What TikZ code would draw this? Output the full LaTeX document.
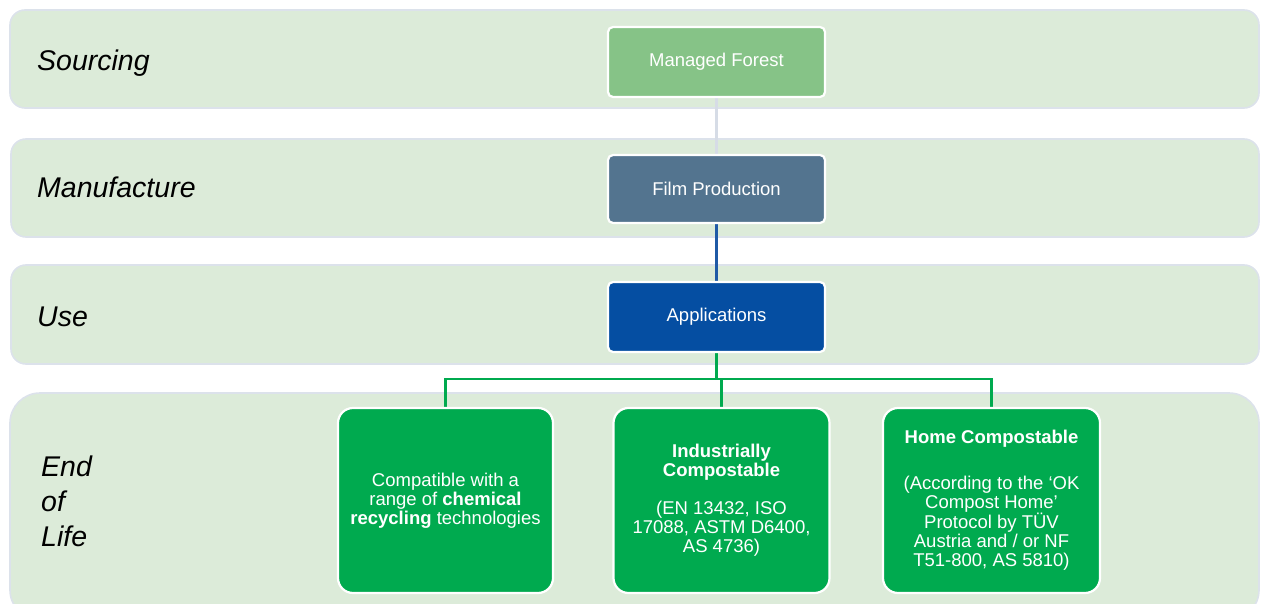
\documentclass[tikz,border=0pt]{standalone}
\usepackage{fontspec}
\setmainfont{Liberation Sans}
\usetikzlibrary{backgrounds}
\definecolor{bandfill}{HTML}{DCEBD9}
\definecolor{banddraw}{HTML}{DCE2EB}
\definecolor{forest}{HTML}{86C387}
\definecolor{film}{HTML}{53748F}
\definecolor{apps}{HTML}{054EA2}
\definecolor{eol}{HTML}{00AA4F}
\definecolor{greyline}{HTML}{D6DCE6}
\definecolor{blueline}{HTML}{1F5AA6}
\tikzset{
  band/.style={fill=bandfill, draw=banddraw, line width=1.6pt},
  stagelabel/.style={inner sep=0pt, font=\fontsize{28.5}{35}\selectfont\itshape, text=black, align=left},
  procbox/.style={draw=white, line width=2.2pt, rounded corners=5pt, text=white,
    minimum width=217pt, minimum height=70pt, inner sep=0pt, align=center,
    font=\fontsize{18.5}{19.3}\selectfont},
  eolbox/.style={draw=white, line width=2.2pt, rounded corners=15pt, fill=eol, text=white,
    minimum width=216pt, minimum height=185pt, inner sep=0pt, align=center,
    font=\fontsize{18.5}{19.0}\selectfont},
  conn/.style={line width=2.4pt}
}
\begin{document}
\begin{tikzpicture}[x=1pt, y=-1pt]
\useasboundingbox (0,0) rectangle (1261,604);
% stage labels
\node[stagelabel, anchor=base west] (lsrc) at (37,71) {Sourcing};
\node[stagelabel, anchor=base west] (lman) at (37,198) {Manufacture};
\node[stagelabel, anchor=base west] (luse) at (37,326) {Use};
\node[stagelabel, anchor=west] (leol) at (41,501.5) {End\\of\\Life};
% process boxes
\node[procbox, fill=forest] (mf) at (716.5,62) {Managed Forest};
\node[procbox, fill=film, minimum height=68pt] (fp) at (716.5,189) {Film Production};
\node[procbox, fill=apps] (app) at (716.5,317) {Applications};
% end-of-life boxes
\node[eolbox, minimum width=215pt] (b1) at (445.5,500.5)
  {Compatible with a\\range of \textbf{chemical}\\\textbf{recycling} technologies};
\node[eolbox] (b2) at (721.5,500.5)
  {\textbf{Industrially}\\\textbf{Compostable}\\[19pt](EN 13432, ISO\\17088, ASTM D6400,\\AS 4736)};
\node[eolbox, minimum width=217pt] (b3) at (991.5,500.5)
  {\textbf{Home Compostable}\\[27pt](According to the ‘OK\\Compost Home’\\Protocol by TÜV\\Austria and / or NF\\T51-800, AS 5810)};
\coordinate (bus) at (716.5,379);
\begin{scope}[on background layer]
% bands
\path[band, rounded corners=15pt] (10,10) rectangle (1259,108);
\path[band, rounded corners=15pt] (11,139) rectangle (1259,237);
\path[band, rounded corners=15pt] (11,265) rectangle (1259,364);
\path[band, rounded corners=30pt] (10,393) rectangle (1259,620);
% connectors
\draw[conn, greyline] (mf.south) -- (fp.north);
\draw[conn, blueline] (fp.south) -- (app.north);
\draw[conn, eol] (app.south) -- (bus);
\draw[conn, eol] (b1.north) |- (bus) -| (b3.north);
\draw[conn, eol] (bus -| b2.north) -- (b2.north);
\end{scope}
\end{tikzpicture}
\end{document}
